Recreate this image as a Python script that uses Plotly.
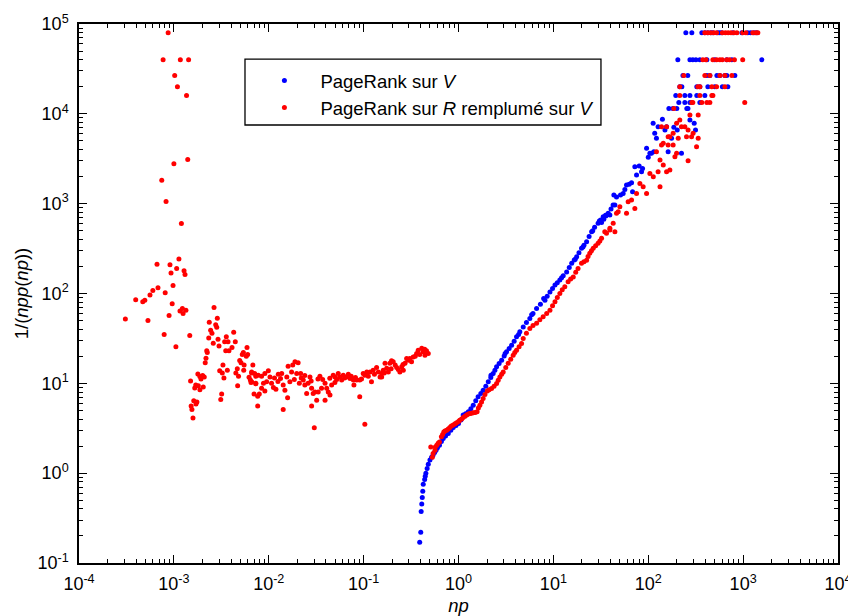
import plotly.graph_objects as go

# ---------------- data ----------------
# red series: "PageRank sur R remplumé sur V"
red_left = [
    (8.7e-4, 80000), (7.7e-4, 40000), (1.17e-3, 40000), (1.43e-3, 40000), (1.02e-3, 26700),
    (1.09e-3, 20000), (1.36e-3, 16000), (1.40e-3, 3100), (1.0e-3, 2780), (7.45e-4, 1820),
    (8.27e-4, 1060), (1.20e-3, 603), (1.13e-3, 242), (6.64e-4, 211), (9.1e-4, 209),
    (1.07e-3, 190), (1.28e-3, 179), (1.31e-3, 163), (9.33e-4, 169), (9.8e-4, 123),
    (6.8e-4, 116), (8.1e-4, 102), (6.0e-4, 108), (5.6e-4, 96), (4.94e-4, 84),
    (4.7e-4, 81), (3.96e-4, 85), (9.6e-4, 77), (1.23e-3, 68), (1.34e-3, 65),
    (1.16e-3, 64), (1.25e-3, 60), (8.9e-4, 57), (2.65e-3, 70), (3.08e-4, 52),
    (5.33e-4, 50), (2.87e-3, 53), (2.36e-3, 48), (2.76e-3, 45), (2.83e-3, 42),
    (2.44e-3, 39), (2.52e-3, 36), (4.27e-3, 37), (7.9e-4, 35), (1.47e-3, 34),
    (2.33e-3, 32), (3.57e-3, 33), (2.92e-3, 31), (2.6e-3, 28), (3.43e-3, 29),
    (3.72e-3, 29), (4.44e-3, 29), (2.99e-3, 26), (1.05e-3, 25.5), (4.1e-3, 25),
    (3.81e-3, 23), (5.9e-3, 25), (3.52e-3, 23), (2.22e-3, 23), (2.25e-3, 22),
    (5.4e-3, 22), (5.26e-3, 21), (5.8e-3, 20), (6.0e-3, 21), (2.18e-3, 19),
    (4.94e-3, 18), (5.1e-3, 17), (2.14e-3, 17), (5.5e-3, 16), (3.29e-3, 16),
    (6.8e-3, 16), (4.66e-3, 14.5), (5.45e-3, 14), (3.66e-3, 14), (3.04e-3, 13.8),
    (3.24e-3, 13), (4.5e-3, 13), (6.6e-3, 13), (7.3e-3, 12), (4.8e-3, 12),
    (6.2e-3, 11.7), (1.79e-3, 12.7), (1.88e-3, 11.9), (2.01e-3, 12.2), (2.09e-3, 11.8),
    (1.93e-3, 11.2), (3.37e-3, 11.5), (6.4e-3, 10.9), (6.5e-3, 10.2), (1.5e-3, 10.6),
    (7.3e-3, 9.9), (1.7e-3, 9.6), (1.81e-3, 9.4), (2.04e-3, 9.1), (1.66e-3, 8.9),
    (1.88e-3, 8.5), (4.7e-3, 9.4), (7.0e-3, 7.6), (3.19e-3, 7.6), (7.65e-3, 7.2),
    (3.12e-3, 6.6), (1.62e-3, 6.4), (1.75e-3, 6.2), (1.71e-3, 5.9), (1.52e-3, 5.6),
    (1.55e-3, 5.1), (7.65e-3, 5.6), (1.59e-3, 4.1),
]
red_band = [
    (6.6e-3, 13.4), (7.1e-3, 12.9), (7.75e-3, 12.3), (8.4e-3, 12.0), (7.3e-3, 10.0),
    (6.6e-3, 10.4), (7.95e-3, 7.6), (9.1e-3, 12.9), (9.9e-3, 13.8), (1.03e-2, 11.8),
    (9.5e-3, 10.4), (8.8e-3, 10.0), (8.4e-3, 8.8), (9.1e-3, 8.2), (1.07e-2, 10.0),
    (1.12e-2, 9.0), (1.19e-2, 8.6), (1.26e-2, 12.6), (1.37e-2, 12.9), (1.33e-2, 11.3),
    (1.42e-2, 9.6), (1.48e-2, 8.4), (1.58e-2, 6.9), (1.42e-2, 5.1), (1.6e-2, 15.5),
    (1.79e-2, 16.0), (1.89e-2, 17.4), (2.04e-2, 16.9), (1.74e-2, 13.4), (1.97e-2, 12.9),
    (2.17e-2, 12.9), (1.67e-2, 10.4), (1.86e-2, 11.0), (2.1e-2, 10.0), (2.31e-2, 10.9),
    (2.4e-2, 9.6), (2.6e-2, 10.0), (2.72e-2, 11.8), (2.51e-2, 7.7), (2.83e-2, 8.8),
    (2.94e-2, 7.7), (3.07e-2, 8.0), (3.32e-2, 8.0), (3.46e-2, 12.0), (3.6e-2, 8.8),
    (3.92e-2, 10.0), (4.08e-2, 8.8), (4.24e-2, 8.0), (3.92e-2, 6.5), (3.2e-2, 6.5),
    (2.83e-2, 5.6), (3.02e-2, 3.2), (4.42e-2, 7.4), (4.6e-2, 9.6), (4.78e-2, 12.3),
    (4.98e-2, 10.2), (5.4e-2, 12.9), (5.6e-2, 11.8), (5.87e-2, 10.9), (6.1e-2, 12.3),
    (6.6e-2, 11.8), (6.9e-2, 12.6), (7.2e-2, 11.3), (7.8e-2, 10.9), (8.45e-2, 10.9),
    (7.9e-2, 9.6), (9.1e-2, 10.9), (9.9e-2, 12.9), (0.103, 12.3), (0.108, 13.4),
    (9.1e-2, 7.1), (0.103, 3.5), (0.117, 13.4), (0.121, 10.4), (0.126, 14.0),
    (0.137, 15.0), (0.143, 13.4), (0.155, 12.9), (0.149, 11.8), (0.161, 14.0),
    (0.175, 14.7), (0.168, 16.7), (0.189, 16.7), (0.197, 17.8), (0.205, 17.4),
    (0.182, 13.4), (0.223, 15.0), (0.232, 14.3), (0.252, 15.3), (0.273, 16.7),
    (0.295, 18.1), (0.284, 18.9), (0.307, 18.9), (0.333, 19.7), (0.362, 21.5),
    (0.376, 23.4), (0.41, 24.5), (0.425, 22.4), (0.443, 20.6), (0.48, 21.5),
    (0.32, 17.4), (0.262, 14.0), (0.241, 13.4), (0.155, 11.8),
    (0.0115, 11.5), (0.0125, 10.5), (0.0155, 11.8), (0.022, 11.5), (0.024, 12.2),
    (0.028, 10.6), (0.033, 11.2), (0.037, 11.0), (0.044, 11.4), (0.050, 11.8),
    (0.052, 11.0), (0.063, 11.5), (0.074, 12.0), (0.082, 11.6), (0.095, 11.2),
    (0.112, 12.0), (0.130, 12.6), (0.165, 13.0), (0.195, 14.5), (0.215, 16.0),
    (0.260, 16.2), (0.350, 20.0), (0.390, 21.0), (0.460, 23.0), (0.440, 24.0),
]
red_rise = [
    (0.51, 1.96), (0.53, 1.50), (0.54, 1.66), (0.565, 1.80), (0.59, 2.05),
    (0.63, 2.23), (0.66, 2.54), (0.70, 2.88), (0.75, 3.01), (0.81, 3.23),
    (0.88, 3.43), (0.955, 3.63), (1.03, 3.89), (1.12, 4.17), (1.22, 4.43),
    (1.32, 4.63), (1.43, 4.69), (1.57, 4.82), (1.68, 5.72), (1.82, 6.79),
    (2.01, 8.24), (2.23, 8.77), (2.52, 9.97), (2.73, 11.8), (2.96, 13.4),
    (3.34, 16.7), (3.77, 20.6), (4.09, 23.4), (4.62, 27.8), (4.81, 31.6),
    (5.65, 40.8), (6.65, 46.5), (7.8, 55.0), (9.2, 65.3), (10.4, 80.9),
    (11.7, 100), (13.2, 119), (14.3, 135), (16.2, 153), (18.2, 190),
    (19.8, 217), (22.4, 235), (24.2, 280), (26.3, 318), (29.6, 362),
    (32.2, 411), (34.8, 487), (39.4, 531), (42.7, 604), (46.3, 780),
    (44.5, 487), (36.3, 467), (39.4, 508), (48.2, 812), (50.2, 924),
    (59, 780), (61.4, 1050), (66.7, 1100), (72.2, 886), (75.3, 1300),
    (81.6, 1680), (88.4, 1540), (96, 1300), (104, 2170), (113, 1990),
    (127, 2270), (133, 1540), (144, 2690), (156, 2270), (169, 2370),
    (191, 3330), (199, 3630), (133, 3060), (122, 3780), (138, 4500),
    (162, 4500), (169, 5560), (183, 6070), (144, 4690), (207, 5340),
    (263, 3000), (183, 4500), (215, 8540), (243, 7190), (263, 6610),
    (297, 6070), (336, 5340), (323, 4300), (286, 5560), (253, 5560),
    (224, 7190), (156, 7190), (162, 5560), (138, 7190), (199, 7840),
    (275, 9700), (336, 9700),
    (0.57, 1.95), (0.61, 2.15), (0.68, 2.7), (0.72, 2.95), (0.78, 3.1),
    (0.84, 3.35), (0.92, 3.55), (1.0, 3.75), (1.08, 4.0), (1.17, 4.3),
    (1.27, 4.55), (1.37, 4.65), (1.5, 4.75), (1.62, 5.3), (1.75, 6.2),
    (1.9, 7.5), (2.1, 8.5), (2.37, 9.3), (2.62, 10.8), (2.85, 12.6),
    (3.15, 15.0), (3.55, 18.5), (3.92, 22.0), (4.35, 25.5), (5.2, 36.0),
    (6.1, 44.0), (7.2, 51.0), (8.5, 60.0), (9.8, 73.0), (11.0, 90.0),
    (12.4, 110), (15.2, 145), (17.2, 172), (21.0, 226), (23.2, 258),
    (25.2, 300), (27.9, 340), (30.9, 385),
]
# quantised top rows (value -> np positions)
red_rows = {
    80000: [395, 425, 457, 490, 525, 604, 650, 695, 745, 800, 860, 990, 1070, 1265, 1360, 1430],
    40000: [376, 405, 480, 525, 569, 604, 673, 720, 810, 990],
    26667: [237, 395, 446, 569, 642, 760],
    20000: [215, 333, 350, 468, 525, 642],
    16000: [215, 350, 468, 480],
    13333: [288, 295, 367, 415, 446, 1040],
    11429: [186],
}

# blue series: "PageRank sur V"
blue_curve = [
    (0.39, 0.17), (0.40, 0.22), (0.404, 0.375), (0.41, 0.455), (0.415, 0.536),
    (0.42, 0.63), (0.425, 0.754), (0.44, 0.85), (0.446, 0.926), (0.453, 1.0),
    (0.467, 1.13), (0.48, 1.26), (0.50, 1.40), (0.54, 1.59), (0.58, 1.80),
    (0.63, 2.05), (0.69, 2.43), (0.78, 2.77), (0.88, 3.23), (1.0, 3.58),
    (1.12, 4.43), (1.27, 4.82), (1.43, 5.72), (1.61, 7.07), (1.82, 8.4),
    (2.06, 10.4), (2.32, 12.9), (2.52, 15.3), (2.85, 18.1), (3.21, 22.4),
    (3.63, 26.6), (4.09, 32.9), (4.81, 42.5), (5.65, 52.8), (6.65, 68.2),
    (8.15, 84.3), (9.2, 104), (10.4, 124), (11.7, 141), (13.8, 174),
    (15.6, 217), (17.6, 256), (19.8, 318), (22.4, 376), (25.3, 487),
    (29.6, 604), (33.5, 714), (37.8, 780), (44.5, 967),
    (0.52, 1.50), (0.56, 1.70), (0.60, 1.92), (0.66, 2.25), (0.73, 2.6),
    (0.83, 3.0), (0.94, 3.4), (1.06, 3.9), (1.19, 4.6), (1.35, 5.2),
    (1.52, 6.4), (1.72, 7.7), (1.94, 9.3), (2.19, 11.6), (2.42, 14.0),
    (2.68, 16.6), (3.03, 20.2), (3.42, 24.4), (3.86, 29.5), (4.43, 37.5),
    (5.2, 47.5), (6.1, 60.0), (7.3, 76.0), (8.6, 93.0), (9.8, 114),
    (11.0, 132), (12.7, 158), (14.7, 195), (16.6, 236), (18.6, 285),
    (21.0, 345), (23.8, 430), (27.2, 545), (31.5, 660), (35.5, 745),
    (40.5, 870), (2.2, 12.3), (3.1, 21.5), (4.3, 35.0), (5.9, 58.0),
    (7.9, 88.0), (12.2, 150), (17.0, 240), (20.5, 330), (26.0, 500),
    (30.5, 640),
]
blue_upper = [
    (32.2, 619), (34.0, 669), (35.7, 727), (39.4, 746), (42.6, 965),
    (46.3, 1190), (43.4, 1250), (51.0, 1250), (54.4, 1300), (56.7, 1440),
    (59.0, 1610), (62.9, 1650), (66.7, 1710), (68.3, 1360), (72.2, 2570),
    (75.3, 2080), (80.2, 2620), (85, 2270), (87.1, 2470), (96, 4130),
    (100, 3280), (104, 3630), (108, 3630), (114.6, 3780), (117, 6070),
    (122, 5340), (112.6, 7840), (127, 7190), (141, 8700), (150, 6610),
    (156, 7190), (162, 3780), (176, 5340), (186, 7080), (202, 6610),
    (224, 3630), (275, 8540), (305, 7840), (315, 6610),
]
blue_rows = {
    80000: [249, 288, 367, 395, 425, 457, 480, 542, 569, 597, 780, 970, 1120, 1200, 1300, 1390],
    40000: [205, 275, 295, 318, 350, 415, 503, 673, 760, 1575],
    26667: [232, 261, 415, 446, 529, 569, 642, 673, 818],
    20000: [215, 226, 325, 350, 425, 503, 604, 690],
    16000: [195, 243, 275, 325, 395],
    13333: [210, 243, 275, 350],
    11429: [165, 182, 200, 255, 262],
}

x_tick_exponents = list(range(-4, 5))
y_tick_exponents = list(range(-1, 6))


def unpack(pairs, rows):
    xs = [p[0] for p in pairs]
    ys = [p[1] for p in pairs]
    for val, xlist in rows.items():
        xs += xlist
        ys += [val] * len(xlist)
    return xs, ys


blue_x, blue_y = unpack(blue_curve + blue_upper, blue_rows)
red_x, red_y = unpack(red_left + red_band + red_rise, red_rows)

FONT = "Liberation Sans, Arial, Helvetica, sans-serif"
MS = 5

fig = go.Figure()
fig.add_trace(go.Scatter(
    x=blue_x, y=blue_y, mode="markers", name="PageRank sur <i>V</i>",
    legendgroup="b", marker=dict(color="#0000ff", size=MS, line=dict(width=0)),
))
fig.add_trace(go.Scatter(
    x=red_x, y=red_y, mode="markers", name="PageRank sur <i>R</i> remplumé sur <i>V</i>",
    legendgroup="r", marker=dict(color="#ff0000", size=MS, line=dict(width=0)),
))
# empty trace that carries the overlaid minor-tick axes
fig.add_trace(go.Scatter(x=[], y=[], xaxis="x2", yaxis="y2", showlegend=False,
                         hoverinfo="skip"))


def major_axis(exps, label_standoff):
    return dict(
        type="log",
        range=[exps[0], exps[-1]],
        tickmode="array",
        tickvals=[10.0 ** k for k in exps],
        ticktext=[f"10<sup>{k}</sup>" for k in exps],
        ticks="inside", ticklen=8, tickwidth=1, tickcolor="black",
        showline=True, linecolor="black", linewidth=1.5, mirror="allticks",
        showgrid=False, zeroline=False, automargin=False,
        ticklabelstandoff=label_standoff, ticklabeloverflow="allow",
        tickfont=dict(family=FONT, size=18, color="black"),
    )


def minor_axis(exps, overlay, anchor):
    return dict(
        type="log",
        range=[exps[0], exps[-1]],
        overlaying=overlay, anchor=anchor,
        tickmode="array",
        tickvals=[m * 10.0 ** k for k in exps[:-1] for m in range(2, 10)],
        ticks="inside", ticklen=4, tickwidth=1, tickcolor="black",
        showticklabels=False, showline=False, mirror="allticks",
        showgrid=False, zeroline=False, automargin=False,
    )


xa = major_axis(x_tick_exponents, 4)
xa["title"] = dict(text="<i>np</i>", font=dict(family=FONT, size=18.5, color="black"), standoff=6)
ya = major_axis(y_tick_exponents, 5)
ya["title"] = dict(text="1/(<i>npp</i>(<i>np</i>))", font=dict(family=FONT, size=18.5, color="black"), standoff=4)

fig.add_shape(type="rect", xref="paper", yref="paper",
              x0=0.2187, x1=0.6877, y0=0.8126, y1=0.935,
              line=dict(color="black", width=1.3), fillcolor="white", layer="below")

fig.update_layout(
    width=848, height=616,
    margin=dict(l=79, r=10, t=24, b=53),
    paper_bgcolor="white", plot_bgcolor="white",
    font=dict(family=FONT, size=18, color="black"),
    xaxis=xa, yaxis=ya,
    xaxis2=minor_axis(x_tick_exponents, "x", "y2"),
    yaxis2=minor_axis(y_tick_exponents, "y", "x2"),
    showlegend=True,
    hovermode=False,
    legend=dict(x=0.2232, y=0.9295, xanchor="left", yanchor="top",
                bgcolor="rgba(0,0,0,0)", borderwidth=0,
                font=dict(family=FONT, size=18.5, color="black"),
                itemwidth=62, traceorder="grouped", tracegroupgap=0),
)

# the page's default 8px body margin would shift the figure; remove it
fig.write_html("out.html", config={"displayModeBar": False},
               post_script="document.body.style.margin='0';")
